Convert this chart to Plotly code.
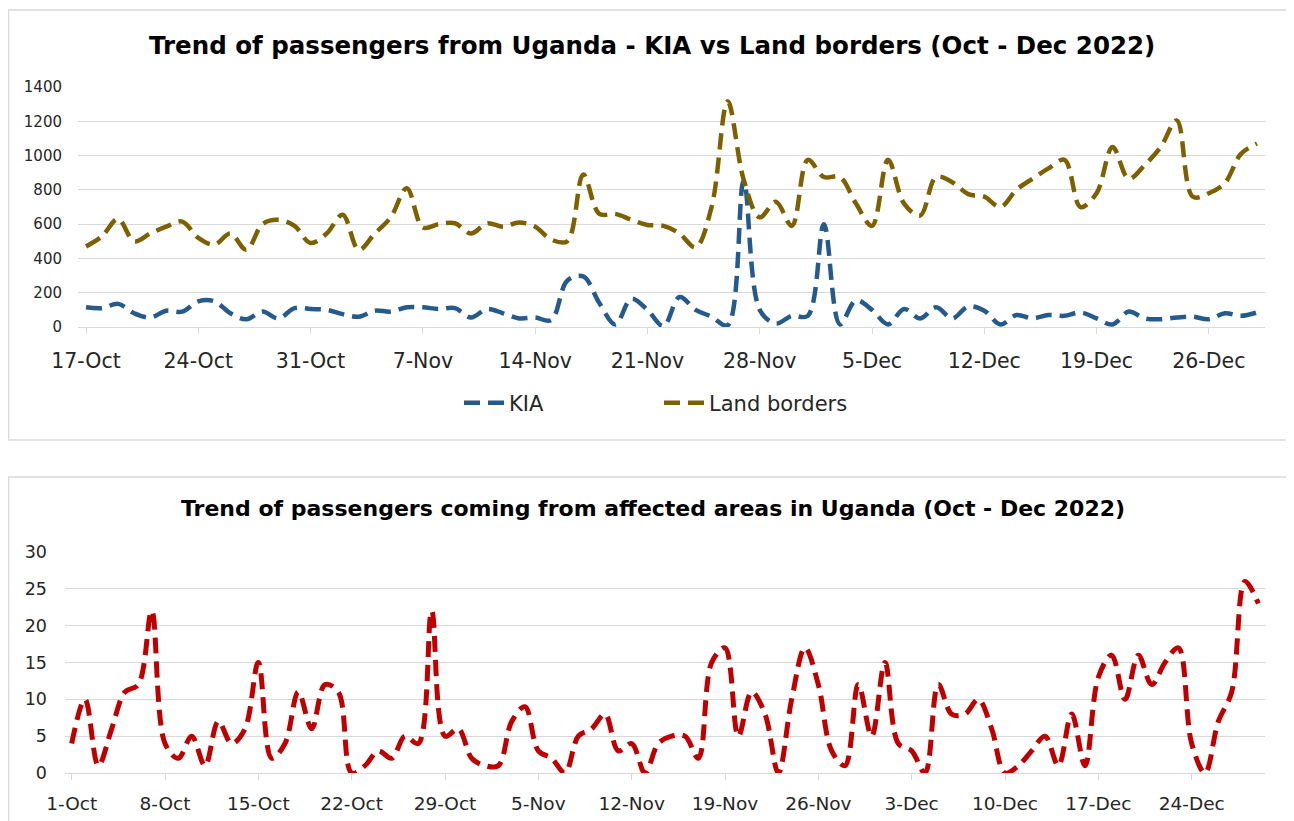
import pandas as pd
import plotly.graph_objects as go

# ---------------- data ----------------
TOP_START = "2022-10-17"
TOP_END = "2022-12-29"
BOTTOM_START = "2022-10-01"
BOTTOM_END = "2022-12-29"

kia = [115, 110, 135, 80, 55, 95, 90, 150, 150, 80, 45, 90, 50, 110, 105, 100, 75, 60, 95, 90, 115, 115,
       105, 110, 55, 105, 80, 50, 55, 40, 270, 295, 140, 15, 165, 100, 5, 175, 100, 60, 10, 850, 100, 20,
       65, 65, 600, 15, 155, 100, 15, 105, 50, 115, 50, 120, 95, 15, 70, 50, 70, 65, 85, 50, 15, 90, 50,
       45, 55, 60, 45, 80, 65, 85]

land_borders = [470, 530, 630, 500, 545, 585, 615, 520, 480, 545, 450, 600, 625, 590, 490, 545, 655, 450,
                545, 640, 810, 580, 600, 605, 545, 605, 585, 610, 585, 510, 500, 890, 660, 660, 625, 595,
                590, 545, 465, 700, 1315, 860, 640, 730, 590, 975, 875, 875, 720, 590, 975, 720, 650, 875,
                845, 775, 760, 700, 800, 865, 925, 975, 700, 780, 1050, 865, 945, 1050, 1205, 760, 780,
                840, 1010, 1070]

affected = [4, 10, 1, 6, 11, 12, 22, 4, 2, 5, 1, 7, 4, 6, 15, 2, 4, 11, 6, 12, 11, 0, 1, 3, 2, 5, 4, 22,
            5, 6, 2, 1, 1, 7, 9, 3, 2, 0, 5, 6, 8, 3, 4, 0, 4, 5, 5, 2, 15, 17, 5, 11, 8, 0, 10, 17, 12, 3,
            1, 12, 5, 15, 4, 3, 0, 12, 8, 8, 10, 6, 0, 1, 3, 5, 1, 8, 1, 13, 16, 10, 16, 12, 15, 17, 4, 0,
            7, 11, 26, 23]

top_dates = pd.date_range(TOP_START, TOP_END, freq="D")
bottom_dates = pd.date_range(BOTTOM_START, BOTTOM_END, freq="D")

TOP_TITLE = "Trend of passengers from Uganda - KIA vs Land borders (Oct - Dec 2022)"
BOTTOM_TITLE = "Trend of passengers coming from affected areas in Uganda (Oct - Dec 2022)"

# ---------------- figure ----------------
PAGE_OFFSET = 8          # default body margin of the html page
W, H = 1294 - PAGE_OFFSET, 821 - PAGE_OFFSET
FONT = "Verdana, 'DejaVu Sans', sans-serif"
GRID = "#d9d9d9"
TXT = "#262626"


def px_x(v):
    return (v - PAGE_OFFSET) / W


def px_y(v):
    return 1 - (v - PAGE_OFFSET) / H


fig = go.Figure()

dash = "16px,8px"
fig.add_trace(go.Scatter(x=top_dates, y=kia, name="KIA", mode="lines",
                         line=dict(color="#255a8c", width=4.5, dash=dash, shape="spline", smoothing=1),
                         xaxis="x", yaxis="y"))
fig.add_trace(go.Scatter(x=top_dates, y=land_borders, name="Land borders", mode="lines",
                         line=dict(color="#7f6000", width=4.5, dash=dash, shape="spline", smoothing=1),
                         xaxis="x", yaxis="y"))
fig.add_trace(go.Scatter(x=bottom_dates, y=affected, name="Affected areas", mode="lines",
                         line=dict(color="#c00000", width=5, dash=dash, shape="spline", smoothing=1),
                         xaxis="x2", yaxis="y2", showlegend=False))

axis_common = dict(showgrid=False, showline=True, linecolor=GRID, linewidth=1,
                   ticks="outside", ticklen=6, tickcolor=GRID, tickformat="%-d-%b",
                   dtick=7 * 86400000, zeroline=False, automargin=False)
yaxis_common = dict(showgrid=True, gridcolor=GRID, gridwidth=1, zeroline=False, showline=False,
                    ticks="", automargin=False)

fig.update_layout(
    template="none",
    width=W, height=H,
    margin=dict(l=0, r=0, t=0, b=0, autoexpand=False),
    paper_bgcolor="white", plot_bgcolor="white",
    font=dict(family=FONT, color=TXT),
    xaxis=dict(domain=[px_x(78), px_x(1265)], anchor="y",
               range=["2022-10-16 12:00", "2022-12-29 12:00"], tick0=TOP_START,
               tickfont=dict(size=20.5, color=TXT), ticklabelstandoff=9, **axis_common),
    yaxis=dict(domain=[px_y(327), px_y(87)], anchor="x", range=[0, 1400], dtick=200,
               tickfont=dict(size=15, color=TXT), ticklabelstandoff=15, **yaxis_common),
    xaxis2=dict(domain=[px_x(65), px_x(1265)], anchor="y2",
                range=["2022-09-30 12:00", "2022-12-29 12:00"], tick0=BOTTOM_START,
                tickfont=dict(size=18.5, color=TXT), ticklabelstandoff=8, **axis_common),
    yaxis2=dict(domain=[px_y(773), px_y(552)], anchor="x2", range=[0, 30], dtick=5,
                tickfont=dict(size=17.5, color=TXT), ticklabelstandoff=17, **yaxis_common),
    legend=dict(orientation="h", x=px_x(459), y=px_y(403), xanchor="left", yanchor="middle",
                font=dict(size=21, color=TXT), bgcolor="rgba(0,0,0,0)",
                entrywidth=145, entrywidthmode="pixels", itemwidth=40, tracegroupgap=0),
    showlegend=True,
)

# chart frames
fig.add_shape(type="rect", xref="paper", yref="paper",
              x0=px_x(8.5), x1=px_x(1293), y0=px_y(440), y1=px_y(10),
              line=dict(color=GRID, width=1.5), fillcolor="rgba(0,0,0,0)", layer="below")
fig.add_shape(type="rect", xref="paper", yref="paper",
              x0=px_x(8.5), x1=px_x(1293), y0=px_y(840), y1=px_y(477),
              line=dict(color=GRID, width=1.5), fillcolor="rgba(0,0,0,0)", layer="below")

# titles
fig.add_annotation(text="<b>" + TOP_TITLE + "</b>", xref="paper", yref="paper",
                   x=px_x(652), y=px_y(45), xanchor="center", yanchor="middle", showarrow=False,
                   font=dict(size=24.5, color="#000000", family=FONT))
fig.add_annotation(text="<b>" + BOTTOM_TITLE + "</b>", xref="paper", yref="paper",
                   x=px_x(653), y=px_y(508), xanchor="center", yanchor="middle", showarrow=False,
                   font=dict(size=22, color="#000000", family=FONT))

fig.write_html("out.html")
